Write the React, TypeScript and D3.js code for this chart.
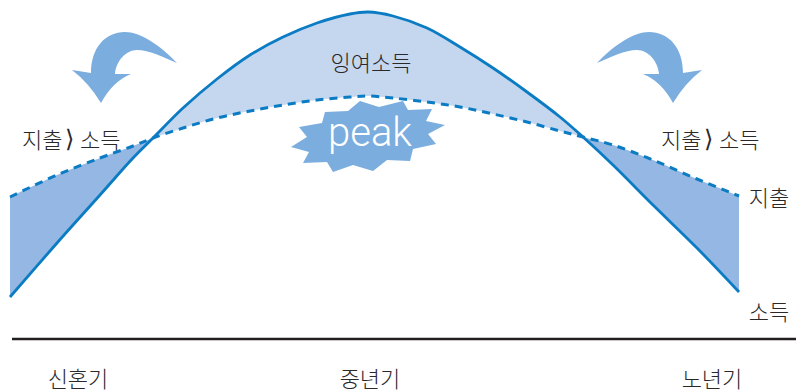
import React from 'react';
import * as d3 from 'd3';

const WIDTH = 796;
const HEIGHT = 392;
const BASELINE = 339;

// position along the life course, and height above the baseline
const lifePos = [10, 57, 100, 133, 153, 183, 217, 250, 283, 317, 350, 368, 393, 427, 460, 493, 527, 560, 583, 613, 653, 697, 739];
const income = [42, 96, 144, 181, 201, 231, 260, 284, 302, 316, 325, 327, 323, 311, 292, 271, 247, 222, 202, 174, 134, 91, 47];
const spending = [142, 164, 181, 193, 201, 211, 221, 228, 234, 239, 242, 243, 241, 237, 232, 225, 217, 208, 202, 194, 179, 160, 143];

const stages = ['신혼기', '중년기', '노년기'];
const stagePos = [78, 370, 712];

// crossing points of the two curves (indexes into lifePos)
const crossLeft = 4;
const crossRight = 18;

// outline of the burst behind "peak", relative to its centre
const burst: [number, number][] = [
  [-8, -34], [11, -28], [35, -34], [40, -25], [64, -26], [58, -14], [77, -10], [60, -1],
  [68, 9], [45, 14], [42, 26], [19, 25], [5, 36], [-15, 30], [-35, 37], [-41, 27],
  [-65, 28], [-59, 17], [-77, 12], [-61, 2], [-69, -8], [-46, -12], [-43, -23], [-20, -24],
];

const FONT = '"Noto Sans CJK KR", "Noto Sans", sans-serif';
const TEXT = '#2b2829';
const LINE = '#0b7cc3';
const LIGHT = '#c5d7ef';
const MID = '#94b8e3';
const ARROW = '#7badde';

const x = d3.scaleLinear().domain([0, WIDTH]).range([0, WIDTH]);
const y = d3.scaleLinear().domain([0, BASELINE]).range([BASELINE, 0]);

const rows = lifePos.map((p, i) => ({ p, income: income[i], spending: spending[i] }));

const curve = d3.curveCatmullRom.alpha(0.5);
const incomeLine = d3.line<any>().x(d => x(d.p)).y(d => y(d.income)).curve(curve);
const spendingLine = d3.line<any>().x(d => x(d.p)).y(d => y(d.spending)).curve(curve);
const gap = d3.area<any>().x(d => x(d.p)).y0(d => y(d.spending)).y1(d => y(d.income)).curve(curve);

// curved arrow, local origin at the arrow head's tip
function arrowPath() {
  const p = d3.path();
  p.moveTo(76, -40);
  p.bezierCurveTo(59, -58, 39, -71, 24, -71);
  p.bezierCurveTo(4, -71, -10, -55, -10, -30);
  p.lineTo(-29, -33);
  p.quadraticCurveTo(-12, -20, 0, 0);
  p.quadraticCurveTo(12, -22, 30, -29);
  p.lineTo(14, -29);
  p.bezierCurveTo(15, -42, 25, -53, 36, -53);
  p.bezierCurveTo(48, -53, 62, -46, 76, -40);
  p.closePath();
  return p.toString();
}

const labelStyle = { fontFamily: FONT, fontWeight: 300, fill: TEXT, fontSize: 22 };

// "지출 ⟩ 소득", placed piece by piece because the bracket is narrow in the original
function Compare({ left, top }: { left: number; top: number }) {
  return (
    <g>
      <text x={left} y={top} style={labelStyle}>지출</text>
      <text x={left + 43} y={top - 1} fontFamily="DejaVu Sans" fontWeight={200} fontSize={24} fill={TEXT}>⟩</text>
      <text x={left + 58} y={top} style={labelStyle}>소득</text>
    </g>
  );
}

export default function App() {
  const arrow = arrowPath();
  const burstLine = d3.line()(burst) + 'Z';
  return (
    <svg width={WIDTH} height={HEIGHT} style={{ position: 'absolute', left: 0, top: 0 }}>
      <path d={gap(rows.slice(0, crossLeft + 1)) || ''} fill={MID} />
      <path d={gap(rows.slice(crossLeft, crossRight + 1)) || ''} fill={LIGHT} />
      <path d={gap(rows.slice(crossRight)) || ''} fill={MID} />

      <path d={spendingLine(rows) || ''} fill="none" stroke={LINE} strokeWidth={3} strokeDasharray="8 6" />
      <path d={incomeLine(rows) || ''} fill="none" stroke={LINE} strokeWidth={2.8} />

      <path d={arrow} transform="translate(101,103)" fill={ARROW} />
      <path d={arrow} transform="translate(673,103) scale(-1,1)" fill={ARROW} />

      <path d={burstLine} transform="translate(368,135)" fill={ARROW} />
      <text x={370} y={146} textAnchor="middle" fontFamily="Roboto, 'Liberation Sans', sans-serif" fontWeight={300} fontSize={40} fill="#fff">peak</text>

      <text x={371} y={71} textAnchor="middle" style={labelStyle}>잉여소득</text>
      <Compare left={22} top={148} />
      <Compare left={661} top={148} />
      <text x={769} y={206} textAnchor="middle" style={labelStyle}>지출</text>
      <text x={769} y={320} textAnchor="middle" style={labelStyle}>소득</text>

      <line x1={12} x2={WIDTH} y1={y(0)} y2={y(0)} stroke="#231f20" strokeWidth={2.6} />
      {stages.map((s, i) => (
        <text key={s} x={x(stagePos[i])} y={387} textAnchor="middle" style={labelStyle}>{s}</text>
      ))}
    </svg>
  );
}
